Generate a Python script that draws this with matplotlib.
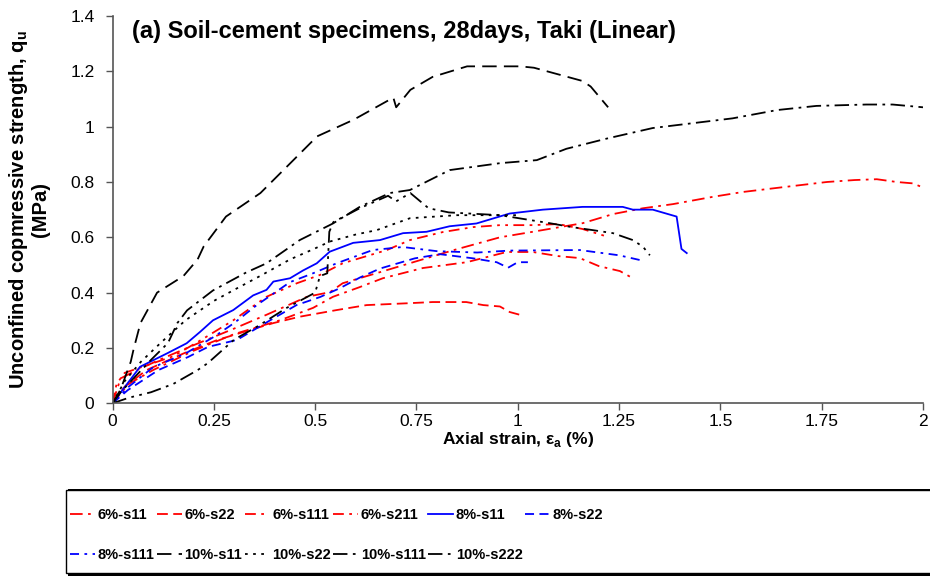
import numpy as np
import matplotlib
matplotlib.use("Agg")
import matplotlib.pyplot as plt
from matplotlib.patches import Rectangle
from matplotlib.ticker import FuncFormatter

plt.rcParams['font.family'] = ['Liberation Sans', 'DejaVu Sans']
plt.rcParams['mathtext.fontset'] = 'custom'
plt.rcParams['mathtext.rm'] = 'Liberation Sans'
plt.rcParams['mathtext.bf'] = 'Liberation Sans:bold'

# strain (%) / strength (MPa)
s6_11_x = [0, 0.02, 0.06, 0.12, 0.2, 0.3, 0.38, 0.48, 0.537, 0.568, 0.66, 0.758, 0.84, 0.956, 1.037,
           1.16, 1.235, 1.309, 1.383, 1.48, 1.556, 1.659, 1.763, 1.831, 1.886, 1.935, 1.975, 2.0]
s6_11_y = [0, 0.09, 0.12, 0.16, 0.21, 0.27, 0.32, 0.385, 0.402, 0.434, 0.474, 0.517, 0.553, 0.6, 0.62,
           0.651, 0.684, 0.705, 0.72, 0.746, 0.764, 0.782, 0.8, 0.807, 0.81, 0.80, 0.795, 0.78]

s6_22_x = [0, 0.03, 0.084, 0.175, 0.257, 0.339, 0.397, 0.462, 0.553, 0.627, 0.734, 0.79, 0.873,
           0.915, 0.956, 0.98, 1.005]
s6_22_y = [0, 0.06, 0.12, 0.18, 0.228, 0.265, 0.29, 0.313, 0.337, 0.355, 0.362, 0.366, 0.366,
           0.355, 0.35, 0.33, 0.32]

s6_111_x = [0, 0.04, 0.1, 0.2, 0.3, 0.413, 0.495, 0.544, 0.61, 0.667, 0.766, 0.874, 0.973, 1.037,
            1.10, 1.153, 1.20, 1.252, 1.284]
s6_111_y = [0, 0.07, 0.12, 0.19, 0.25, 0.30, 0.345, 0.385, 0.42, 0.452, 0.489, 0.51, 0.547, 0.547,
            0.532, 0.525, 0.496, 0.478, 0.452]

s6_211_x = [0, 0.01, 0.03, 0.07, 0.15, 0.22, 0.298, 0.38, 0.455, 0.512, 0.568, 0.677, 0.734, 0.815,
            0.89, 0.956, 1.037, 1.10, 1.16, 1.215]
s6_211_y = [0, 0.07, 0.11, 0.13, 0.17, 0.23, 0.30, 0.385, 0.434, 0.464, 0.506, 0.554, 0.59, 0.619,
            0.637, 0.644, 0.644, 0.648, 0.63, 0.605]

s8_11_x = [0, 0.068, 0.134, 0.183, 0.216, 0.248, 0.298, 0.347, 0.38, 0.397, 0.438, 0.47, 0.504, 0.536,
           0.594, 0.66, 0.717, 0.775, 0.832, 0.898, 0.98, 1.062, 1.16, 1.259, 1.284, 1.333, 1.392,
           1.404, 1.417]
s8_11_y = [0, 0.132, 0.18, 0.217, 0.258, 0.30, 0.337, 0.39, 0.41, 0.44, 0.452, 0.48, 0.506, 0.548,
           0.58, 0.59, 0.615, 0.62, 0.64, 0.65, 0.686, 0.70, 0.71, 0.71, 0.70, 0.70, 0.675,
           0.558, 0.543]

s8_22_x = [0, 0.038, 0.113, 0.186, 0.236, 0.307, 0.389, 0.454, 0.512, 0.561, 0.611, 0.66, 0.746,
           0.808, 0.89, 0.948, 0.976, 1.0, 1.025]
s8_22_y = [0, 0.048, 0.12, 0.167, 0.204, 0.229, 0.30, 0.355, 0.384, 0.416, 0.455, 0.487, 0.524,
           0.539, 0.524, 0.51, 0.49, 0.51, 0.51]

s8_111_x = [0, 0.04, 0.1, 0.18, 0.25, 0.3, 0.356, 0.438, 0.495, 0.553, 0.642, 0.716, 0.8, 0.9,
            0.98, 1.153, 1.25, 1.31]
s8_111_y = [0, 0.06, 0.13, 0.18, 0.24, 0.29, 0.355, 0.438, 0.47, 0.506, 0.554, 0.565, 0.55, 0.545,
            0.552, 0.554, 0.535, 0.515]

s10_11_x = [0, 0.02, 0.045, 0.052, 0.069, 0.11, 0.175, 0.21, 0.225, 0.28, 0.365, 0.43, 0.505, 0.595,
            0.693, 0.70, 0.735, 0.79, 0.875, 1.006, 1.04, 1.16, 1.18, 1.223]
s10_11_y = [0, 0.05, 0.15, 0.195, 0.29, 0.40, 0.46, 0.52, 0.567, 0.675, 0.76, 0.855, 0.965, 1.025,
            1.105, 1.07, 1.133, 1.18, 1.218, 1.218, 1.213, 1.165, 1.145, 1.07]

s10_22_x = [0, 0.03, 0.07, 0.12, 0.18, 0.25, 0.3, 0.364, 0.438, 0.5, 0.537, 0.6, 0.652, 0.734,
            0.85, 1.005]
s10_22_y = [0, 0.08, 0.15, 0.22, 0.30, 0.37, 0.41, 0.46, 0.52, 0.56, 0.585, 0.61, 0.626, 0.669,
            0.68, 0.68]

s10_111_x = [0, 0.02, 0.055, 0.095, 0.137, 0.16, 0.184, 0.248, 0.33, 0.38, 0.462, 0.544, 0.61, 0.684,
             0.734, 0.832, 0.956, 1.047, 1.12, 1.22, 1.333, 1.53, 1.64, 1.737, 1.86, 1.925, 2.0]
s10_111_y = [0, 0.04, 0.095, 0.157, 0.218, 0.29, 0.336, 0.408, 0.473, 0.506, 0.59, 0.65, 0.71, 0.76,
             0.771, 0.843, 0.868, 0.879, 0.92, 0.957, 0.995, 1.03, 1.06, 1.075, 1.08, 1.08, 1.07]

s10_222_x = [0, 0.04, 0.095, 0.15, 0.21, 0.235, 0.3, 0.36, 0.43, 0.5, 0.512, 0.53, 0.535, 0.545,
             0.61, 0.68, 0.70, 0.735, 0.78, 0.83, 0.956, 1.079, 1.133, 1.185, 1.235, 1.284, 1.309, 1.326]
s10_222_y = [0, 0.02, 0.04, 0.07, 0.12, 0.145, 0.23, 0.28, 0.345, 0.40, 0.46, 0.47, 0.62, 0.655,
             0.705, 0.75, 0.73, 0.76, 0.705, 0.69, 0.68, 0.651, 0.637, 0.626, 0.615, 0.59, 0.566, 0.535]

labels = ['6%-s11', '6%-s22', '6%-s111', '6%-s211', '8%-s11', '8%-s22',
          '8%-s111', '10%-s11', '10%-s22', '10%-s111', '10%-s222']
xs = [s6_11_x, s6_22_x, s6_111_x, s6_211_x, s8_11_x, s8_22_x,
      s8_111_x, s10_11_x, s10_22_x, s10_111_x, s10_222_x]
ys = [s6_11_y, s6_22_y, s6_111_y, s6_211_y, s8_11_y, s8_22_y,
      s8_111_y, s10_11_y, s10_22_y, s10_111_y, s10_222_y]
colors = ['#ff0000'] * 4 + ['#0000ff'] * 3 + ['black'] * 4
dashes = [(7, 3, 1.5, 3), (6, 3), (6, 3, 1.5, 3), (6, 3, 1.5, 3, 1.5, 3), None, (5, 3),
          (5, 3, 1.5, 3), (8, 4), (1.5, 3), (8, 3, 1.5, 3), (8, 3, 1.5, 3, 1.5, 3)]

fig = plt.figure(figsize=(9.3, 5.76), dpi=100)
ax = fig.add_axes([112.5 / 930, 1 - 403.3 / 576, (923 - 112.5) / 930, (403.3 - 16) / 576])

handles = []
for x, y, c, d, lab in zip(xs, ys, colors, dashes, labels):
    if d is None:
        ln, = ax.plot(x, y, color=c, lw=1.3, label=lab)
    else:
        ln, = ax.plot(x, y, color=c, lw=1.3, label=lab, dashes=d)
    handles.append(ln)

ax.set_xlim(0, 2)
ax.set_ylim(0, 1.4)
ax.set_xticks(np.arange(0, 2.01, 0.25))
ax.set_yticks(np.arange(0, 1.41, 0.2))
fmt = FuncFormatter(lambda v, p: ('%.2f' % v).rstrip('0').rstrip('.'))
ax.xaxis.set_major_formatter(fmt)
ax.yaxis.set_major_formatter(fmt)
for s in ['top', 'right']:
    ax.spines[s].set_visible(False)
for s in ['left', 'bottom']:
    ax.spines[s].set_color('#555555')
    ax.spines[s].set_linewidth(1.2)
ax.tick_params(direction='out', length=5, width=1, color='#555555', labelsize=12.5)
ax.tick_params(axis='y', pad=8)
ax.tick_params(axis='x', pad=3)

ax.set_xlabel(r'Axial strain, ε$_\mathbf{a}$ (%)', fontsize=12.5, fontweight='bold', va='top')
ax.xaxis.set_label_coords(0.5, -0.068)
ax.set_ylabel('Unconfined copmressive strength, q$_\\mathbf{u}$\n(MPa)', fontsize=14.5,
              fontweight='bold', linespacing=1.1)
ax.yaxis.set_label_coords(-0.077, 0.5)
ax.text(0.024, 0.943, '(a) Soil-cement specimens, 28days, Taki (Linear)', transform=ax.transAxes,
        fontsize=17, fontweight='bold', va='baseline', ha='left')

# legend box with shadow, running off the right edge
fig.patches.append(Rectangle((68 / 930, 0 / 576), 1, 87 / 576, transform=fig.transFigure,
                             facecolor='black', edgecolor='none', zorder=0))
fig.patches.append(Rectangle((66 / 930, 3 / 576), 1, 83 / 576, transform=fig.transFigure,
                             facecolor='white', edgecolor='black', lw=1, zorder=1))

order = [0, 6, 1, 7, 2, 8, 3, 9, 4, 10, 5]
leg = fig.legend([handles[i] for i in order], [labels[i] for i in order], ncol=6,
                 loc='upper left', bbox_to_anchor=(57 / 930, 1 - 495 / 576), frameon=False,
                 prop={'weight': 'bold', 'size': 10.5},
                 handlelength=1.7, handletextpad=0.2, columnspacing=0.15, labelspacing=1.75)

fig.savefig('out.png', dpi=100)
